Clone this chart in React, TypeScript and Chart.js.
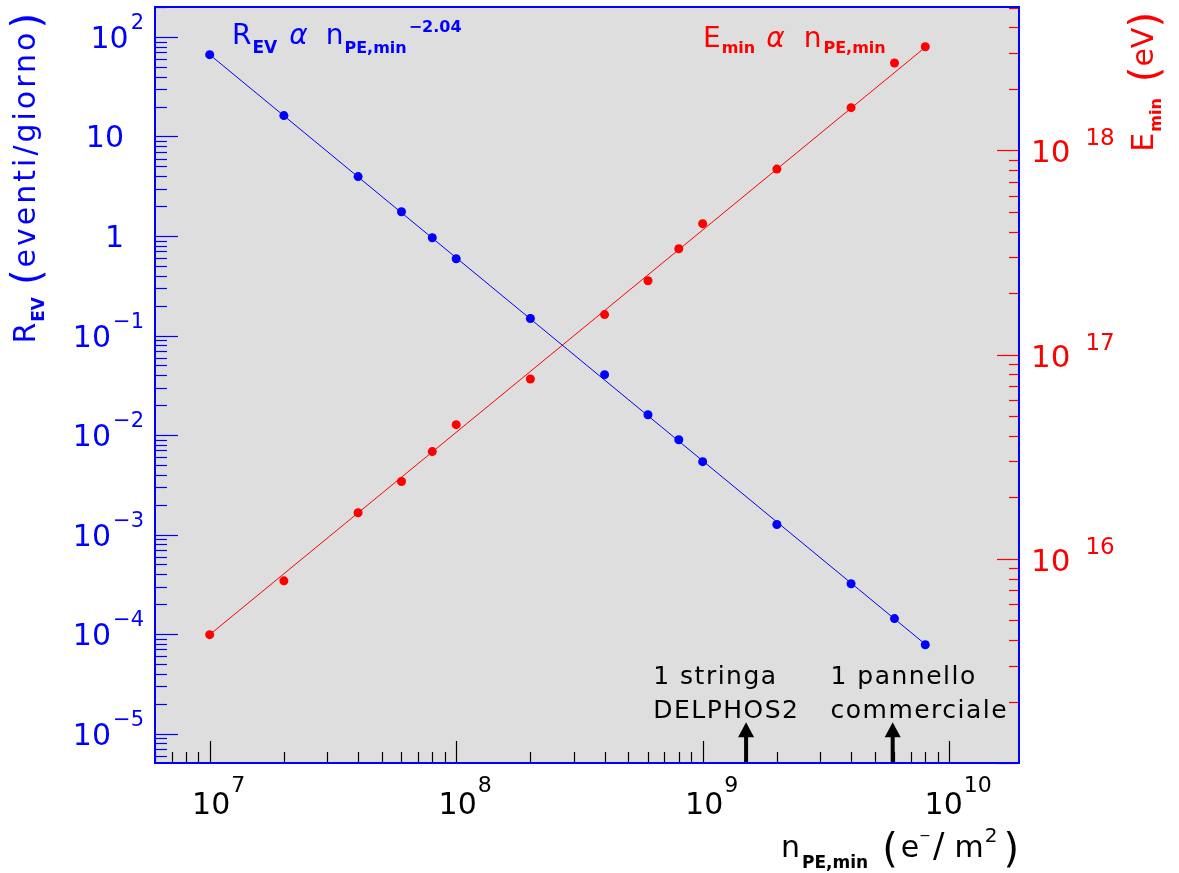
import { useEffect, useRef } from 'react';
import { Chart, registerables } from 'chart.js';

Chart.register(...registerables);

// ---- data ----
const nPE = [1e7, 2e7, 4e7, 6e7, 8e7, 1e8, 2e8, 4e8, 6e8, 8e8, 1e9, 2e9, 4e9, 6e9, 8e9];
const rateEV = [66.4, 16.2, 3.95, 1.75, 0.96, 0.59, 0.148, 0.0404, 0.016, 0.00897, 0.0054, 0.00126, 3.2e-4, 1.43e-4, 7.8e-5];
const eMin = [4.25e15, 7.8e15, 1.68e16, 2.39e16, 3.35e16, 4.54e16, 7.6e16, 1.57e17, 2.3e17, 3.3e17, 4.38e17, 8.1e17, 1.62e18, 2.68e18, 3.22e18];

const rateFitX = [1e7, 8e9];
const rateFitY = [66.4, 7.9e-5];
const eMinFitX = [1e7, 8e9];
const eMinFitY = [4.25e15, 3.2e18];

const xRange = [6e6, 1.92e10];
const leftRange = [5.06e-6, 200];
const rightRange = [1e15, 5.04e18];

const xTickValues = [1e7, 1e8, 1e9, 1e10];
const xTickLabels = ['10^7', '10^8', '10^9', '10^10'];
const leftTickValues = [100, 10, 1, 0.1, 0.01, 0.001, 1e-4, 1e-5];
const leftTickLabels = ['10^2', '10', '1', '10^\u22121', '10^\u22122', '10^\u22123', '10^\u22124', '10^\u22125'];
const rightTickValues = [1e16, 1e17, 1e18];
const rightTickLabels = ['10^16', '10^17', '10^18'];

const markerX = [1.5e9, 5.9e9];
const markerTipY = [1.3e-5, 1.3e-5];
const markerTextX = [6.3e8, 3.3e9];
const markerText = [
  ['1 stringa', 'DELPHOS2'],
  ['1 pannello', 'commerciale'],
];

const BLUE = '#0000ff';
const RED = '#ff0000';
const FONT = '"DejaVu Sans", "Liberation Sans", sans-serif';

type Piece = { t: string; size: number; dy?: number; gap?: number; bold?: boolean; italic?: boolean; ls?: number };

const fontOf = (p: Piece) => `${p.italic ? 'italic ' : ''}${p.bold ? 'bold ' : ''}${p.size}px ${FONT}`;

function rich(
  ctx: CanvasRenderingContext2D,
  pieces: Piece[],
  x: number,
  y: number,
  align: 'left' | 'right' | 'center',
  color: string,
  rot = 0
) {
  ctx.save();
  ctx.translate(x, y);
  if (rot) ctx.rotate(rot);
  const anyCtx = ctx as any;
  const widths = pieces.map((p) => {
    ctx.font = fontOf(p);
    anyCtx.letterSpacing = `${p.ls || 0}px`;
    return ctx.measureText(p.t).width;
  });
  const total = pieces.reduce((s, p, i) => s + (p.gap || 0) + widths[i], 0);
  let cx = align === 'left' ? 0 : align === 'right' ? -total : -total / 2;
  ctx.fillStyle = color;
  ctx.textAlign = 'left';
  ctx.textBaseline = 'alphabetic';
  pieces.forEach((p, i) => {
    cx += p.gap || 0;
    ctx.font = fontOf(p);
    anyCtx.letterSpacing = `${p.ls || 0}px`;
    ctx.fillText(p.t, cx, p.dy || 0);
    cx += widths[i];
  });
  anyCtx.letterSpacing = '0px';
  ctx.restore();
}

function labelPieces(label: string, baseSize: number, supSize: number, supDy: number, supGap: number): Piece[] {
  const [b, s] = label.split('^');
  const out: Piece[] = [{ t: b, size: baseSize }];
  if (s) out.push({ t: s, size: supSize, dy: supDy, gap: supGap });
  return out;
}

function logTicks(min: number, max: number) {
  const out: { v: number; major: boolean }[] = [];
  for (let k = Math.floor(Math.log10(min)); k <= Math.ceil(Math.log10(max)); k++) {
    for (let m = 1; m <= 9; m++) {
      const v = m * Math.pow(10, k);
      if (v >= min * 0.9999 && v <= max * 1.0001) out.push({ v, major: m === 1 });
    }
  }
  return out;
}

const decoPlugin = {
  id: 'deco',
  beforeDatasetsDraw(chart: any) {
    const { ctx, chartArea: a } = chart;
    ctx.save();
    ctx.fillStyle = '#dedede';
    ctx.fillRect(a.left, a.top, a.right - a.left, a.bottom - a.top);
    ctx.restore();
  },
  afterDatasetsDraw(chart: any) {
    const { ctx, chartArea: a, scales } = chart;
    const sx = scales.x;
    const sy = scales.y;
    const sy2 = scales.y2;
    ctx.save();
    ctx.lineWidth = 1.2;

    // left ticks (blue, inward)
    ctx.strokeStyle = BLUE;
    for (const t of logTicks(sy.min, sy.max)) {
      const y = Math.round(sy.getPixelForValue(t.v)) + 0.5;
      ctx.beginPath();
      ctx.moveTo(a.left, y);
      ctx.lineTo(a.left + (t.major ? 23 : 12), y);
      ctx.stroke();
    }
    // bottom ticks (black, upward)
    ctx.strokeStyle = '#000000';
    for (const t of logTicks(sx.min, sx.max)) {
      const x = Math.round(sx.getPixelForValue(t.v)) + 0.5;
      ctx.beginPath();
      ctx.moveTo(x, a.bottom);
      ctx.lineTo(x, a.bottom - (t.major ? 22 : 11));
      ctx.stroke();
    }
    // right ticks (red, inward)
    ctx.strokeStyle = RED;
    for (const t of logTicks(sy2.min, sy2.max)) {
      const y = Math.round(sy2.getPixelForValue(t.v)) + 0.5;
      ctx.beginPath();
      ctx.moveTo(a.right, y);
      ctx.lineTo(a.right - (t.major ? 22 : 10), y);
      ctx.stroke();
    }

    // arrows + marker texts
    markerX.forEach((mx, i) => {
      const x = sx.getPixelForValue(mx);
      const tip = sy.getPixelForValue(markerTipY[i]);
      ctx.fillStyle = '#000000';
      ctx.strokeStyle = '#000000';
      ctx.lineWidth = 4;
      ctx.beginPath();
      ctx.moveTo(x, a.bottom);
      ctx.lineTo(x, tip + 12);
      ctx.stroke();
      ctx.beginPath();
      ctx.moveTo(x, tip);
      ctx.lineTo(x - 8, tip + 15);
      ctx.lineTo(x + 8, tip + 15);
      ctx.closePath();
      ctx.fill();
      const tx = sx.getPixelForValue(markerTextX[i]);
      rich(ctx, [{ t: markerText[i][0], size: 25, ls: 1.5 }], tx, tip - 38, 'left', '#000000');
      rich(ctx, [{ t: markerText[i][1], size: 25, ls: 1.5 }], tx, tip - 4, 'left', '#000000');
    });

    // frame
    ctx.strokeStyle = BLUE;
    ctx.lineWidth = 2;
    ctx.strokeRect(a.left, a.top, a.right - a.left, a.bottom - a.top);

    // left tick labels
    leftTickValues.forEach((v, i) => {
      const y = sy.getPixelForValue(v);
      const pcs = labelPieces(leftTickLabels[i], 30, 21, -19, 2);
      if (pcs.length > 1) rich(ctx, pcs, 144, y + 11, 'right', BLUE);
      else rich(ctx, pcs, 124, y + 11, 'right', BLUE);
    });
    // bottom tick labels
    xTickValues.forEach((v, i) => {
      const x = sx.getPixelForValue(v);
      rich(ctx, labelPieces(xTickLabels[i], 30, 22, -22, 1), x + 9, 814, 'center', '#000000');
    });
    // right tick labels
    rightTickValues.forEach((v, i) => {
      const y = sy2.getPixelForValue(v);
      rich(ctx, labelPieces(rightTickLabels[i], 31, 23, -17, 15), 1031, y + 12, 'left', RED);
    });

    // in-plot titles
    rich(
      ctx,
      [
        { t: 'R', size: 28 },
        { t: 'EV', size: 17, bold: true, dy: 9, gap: 1 },
        { t: '\u03B1', size: 28, italic: true, gap: 12 },
        { t: 'n', size: 28, gap: 18 },
        { t: 'PE,min', size: 16, bold: true, dy: 9, gap: 1 },
        { t: '\u22122.04', size: 16, bold: true, dy: -12, gap: 2 },
      ],
      232,
      44,
      'left',
      BLUE
    );
    rich(
      ctx,
      [
        { t: 'E', size: 28 },
        { t: 'min', size: 16, bold: true, dy: 6, gap: 1 },
        { t: '\u03B1', size: 28, italic: true, gap: 11 },
        { t: 'n', size: 28, gap: 19 },
        { t: 'PE,min', size: 16, bold: true, dy: 6, gap: 2 },
      ],
      703,
      47,
      'left',
      RED
    );

    // axis titles
    rich(
      ctx,
      [
        { t: 'n', size: 30 },
        { t: 'PE,min', size: 17, bold: true, dy: 11, gap: 2 },
        { t: '(', size: 40, dy: 5, gap: 14 },
        { t: 'e', size: 30, gap: 3 },
        { t: '\u2212', size: 14, dy: -17 },
        { t: '/', size: 34, gap: 2 },
        { t: 'm', size: 30, gap: 10 },
        { t: '2', size: 20, dy: -15, gap: 1 },
        { t: ')', size: 40, dy: 5, gap: 6 },
      ],
      1019,
      857,
      'right',
      '#000000'
    );
    rich(
      ctx,
      [
        { t: 'R', size: 30 },
        { t: 'EV', size: 17, bold: true, dy: 9, gap: 1 },
        { t: '(', size: 40, dy: 5, gap: 12 },
        { t: 'eventi/giorno', size: 30, ls: 3, gap: 2 },
        { t: ')', size: 40, dy: 5, gap: 1 },
      ],
      35,
      13,
      'right',
      BLUE,
      -Math.PI / 2
    );
    rich(
      ctx,
      [
        { t: 'E', size: 30 },
        { t: 'min', size: 16, bold: true, dy: 8, gap: 1 },
        { t: '(', size: 40, dy: 5, gap: 16 },
        { t: 'eV', size: 30 },
        { t: ')', size: 40, dy: 5 },
      ],
      1153,
      12,
      'right',
      RED,
      -Math.PI / 2
    );
    ctx.restore();
  },
};

export default function App() {
  const ref = useRef<HTMLCanvasElement | null>(null);
  useEffect(() => {
    if (!ref.current) return;
    const pts = (xs: number[], ys: number[]) => xs.map((x, i) => ({ x, y: ys[i] }));
    const chart = new Chart(ref.current, {
      type: 'scatter',
      data: {
        datasets: [
          {
            data: pts(rateFitX, rateFitY),
            yAxisID: 'y',
            showLine: true,
            borderColor: BLUE,
            borderWidth: 1,
            pointRadius: 0,
          },
          {
            data: pts(nPE, rateEV),
            yAxisID: 'y',
            showLine: false,
            pointRadius: 4.5,
            pointBorderWidth: 0,
            backgroundColor: BLUE,
            pointBackgroundColor: BLUE,
          },
          {
            data: pts(eMinFitX, eMinFitY),
            yAxisID: 'y2',
            showLine: true,
            borderColor: RED,
            borderWidth: 1,
            pointRadius: 0,
          },
          {
            data: pts(nPE, eMin),
            yAxisID: 'y2',
            showLine: false,
            pointRadius: 4.5,
            pointBorderWidth: 0,
            backgroundColor: RED,
            pointBackgroundColor: RED,
          },
        ],
      } as any,
      options: {
        animation: false,
        responsive: false,
        maintainAspectRatio: false,
        devicePixelRatio: 1,
        layout: { padding: { left: 155, top: 7, right: 160, bottom: 110 } },
        plugins: { legend: { display: false }, tooltip: { enabled: false }, title: { display: false } },
        events: [],
        scales: {
          x: { type: 'logarithmic', min: xRange[0], max: xRange[1], display: false },
          y: { type: 'logarithmic', position: 'left', min: leftRange[0], max: leftRange[1], display: false },
          y2: { type: 'logarithmic', position: 'right', min: rightRange[0], max: rightRange[1], display: false },
        },
      } as any,
      plugins: [decoPlugin as any],
    });
    return () => chart.destroy();
  }, []);
  return (
    <div style={{ position: 'absolute', left: 0, top: 0, width: 1179, height: 873, background: '#ffffff' }}>
      <canvas ref={ref} width={1179} height={873} style={{ display: 'block', width: 1179, height: 873 }} />
    </div>
  );
}
